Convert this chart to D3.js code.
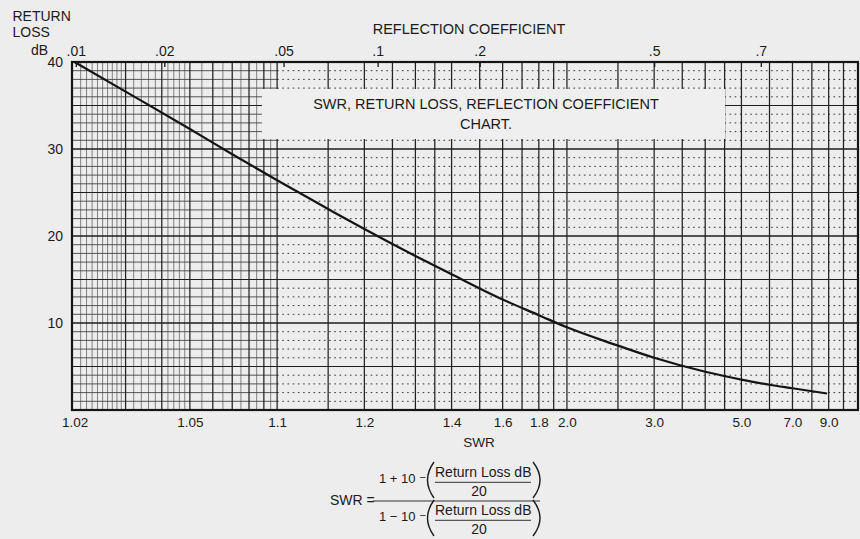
<!DOCTYPE html>
<html>
<head>
<meta charset="utf-8">
<script src="https://cdn.jsdelivr.net/npm/d3@7"></script>
<style>
  html, body { margin: 0; padding: 0; background: #ededed; }
  svg { display: block; font-family: "Liberation Sans", Arial, Helvetica, sans-serif; }
  text { fill: #1b1b1b; }
</style>
</head>
<body>
<svg id="chart" width="860" height="539"></svg>
<script>
// Return loss (dB) against SWR
const swrValues    = [1.02, 1.03, 1.05, 1.07, 1.10, 1.15, 1.20, 1.30, 1.40, 1.60, 1.80, 2.00, 2.50, 3.00, 4.00, 5.00, 6.00, 7.00, 8.90];
const returnLossDb = [40.0, 36.6, 32.3, 29.4, 26.4, 23.1, 20.8, 17.7, 15.6, 12.7, 10.9, 9.5,  7.4,  6.0,  4.4,  3.5,  2.9,  2.5,  1.9];

// bottom axis (SWR)
const swrTickValues = [1.02, 1.05, 1.1, 1.2, 1.4, 1.6, 1.8, 2.0, 3.0, 5.0, 7.0, 9.0];
const swrTickLabels = ["1.02", "1.05", "1.1", "1.2", "1.4", "1.6", "1.8", "2.0", "3.0", "5.0", "7.0", "9.0"];

// top axis (reflection coefficient)
const rhoTickValues = [0.01, 0.02, 0.05, 0.1, 0.2, 0.5, 0.7];
const rhoTickLabels = [".01", ".02", ".05", ".1", ".2", ".5", ".7"];

// left axis (return loss)
const returnLossTicks = [10, 20, 30, 40];

// vertical rulings at SWR values
const swrGridMajor = [1.03, 1.04, 1.05, 1.06, 1.07, 1.08, 1.09, 1.1, 1.15, 1.2, 1.25, 1.3, 1.35, 1.4,
                      1.5, 1.6, 1.7, 1.8, 1.9, 2.0, 2.5, 3.0, 3.5, 4.0, 4.5, 5, 6, 7, 8, 9, 10];
const swrGridFine  = [1.021, 1.022, 1.023, 1.024, 1.025, 1.026, 1.027, 1.028, 1.029,
                      1.032, 1.034, 1.036, 1.038, 1.042, 1.044, 1.046, 1.048,
                      1.055, 1.065, 1.075, 1.085, 1.095];
// horizontal rulings, one per dB
const returnLossGrid = [1,2,3,4,5,6,7,8,9,10,11,12,13,14,15,16,17,18,19,20,
                        21,22,23,24,25,26,27,28,29,30,31,32,33,34,35,36,37,38,39];

const svg = d3.select("#chart");
const plot = { left: 72, right: 858, top: 62, bottom: 410 };

// horizontal position follows log(SWR - 1)
const x = d3.scaleLog().domain([0.0196, 10.1]).range([plot.left, plot.right]);
const xSwr = s => x(s - 1);
const rhoToSwrMinus1 = r => 2 * r / (1 - r);
const y = d3.scaleLinear().domain([0, 40]).range([plot.bottom, plot.top]);

const grid = svg.append("g");

// fine rulings in the low-SWR region
grid.selectAll("line.fine").data(swrGridFine).join("line")
  .attr("x1", d => xSwr(d)).attr("x2", d => xSwr(d))
  .attr("y1", plot.top).attr("y2", plot.bottom)
  .attr("stroke", "#666").attr("stroke-width", 0.8);

// horizontal rulings
const splitX = xSwr(1.1);
const minorH = returnLossGrid.filter(d => d % 5 !== 0);
grid.selectAll("line.hsolid").data(minorH).join("line")
  .attr("x1", plot.left).attr("x2", splitX)
  .attr("y1", d => y(d)).attr("y2", d => y(d))
  .attr("stroke", "#444").attr("stroke-width", 0.9);
grid.selectAll("line.hdot").data(minorH).join("line")
  .attr("x1", splitX).attr("x2", plot.right)
  .attr("y1", d => y(d)).attr("y2", d => y(d))
  .attr("stroke", "#333").attr("stroke-width", 1)
  .attr("stroke-dasharray", "1.6,3.6");
grid.selectAll("line.hfive").data(returnLossGrid.filter(d => d % 5 === 0)).join("line")
  .attr("x1", plot.left).attr("x2", plot.right)
  .attr("y1", d => y(d)).attr("y2", d => y(d))
  .attr("stroke", "#1e1e1e")
  .attr("stroke-width", d => d % 10 === 0 ? 1.7 : 1.1);

// major vertical rulings
grid.selectAll("line.vmajor").data(swrGridMajor).join("line")
  .attr("x1", d => xSwr(d)).attr("x2", d => xSwr(d))
  .attr("y1", plot.top).attr("y2", plot.bottom)
  .attr("stroke", "#222").attr("stroke-width", 1.25);

// title panel
svg.append("rect")
  .attr("x", 262).attr("y", 89).attr("width", 463).attr("height", 50)
  .attr("fill", "#efefef");
svg.append("text").attr("x", 486).attr("y", 108.5).attr("text-anchor", "middle")
  .attr("font-size", 14.5).text("SWR, RETURN LOSS, REFLECTION COEFFICIENT");
svg.append("text").attr("x", 486).attr("y", 128.5).attr("text-anchor", "middle")
  .attr("font-size", 14.5).text("CHART.");

// plot frame
svg.append("rect")
  .attr("x", plot.left).attr("y", plot.top)
  .attr("width", plot.right - plot.left).attr("height", plot.bottom - plot.top)
  .attr("fill", "none").attr("stroke", "#151515").attr("stroke-width", 2.2);

// curve
const line = d3.line()
  .x(d => xSwr(d[0]))
  .y(d => y(d[1]))
  .curve(d3.curveMonotoneX);
svg.append("path")
  .datum(swrValues.map((s, i) => [s, returnLossDb[i]]))
  .attr("d", line)
  .attr("fill", "none").attr("stroke", "#141414").attr("stroke-width", 2.2);

// axes
const bottomAxis = d3.axisBottom(x)
  .tickValues(swrTickValues.map(s => s - 1))
  .tickFormat((d, i) => swrTickLabels[i])
  .tickSize(0).tickPadding(7);
const gb = svg.append("g").attr("transform", `translate(0,${plot.bottom})`).call(bottomAxis);

const topAxis = d3.axisTop(x)
  .tickValues(rhoTickValues.map(rhoToSwrMinus1))
  .tickFormat((d, i) => rhoTickLabels[i])
  .tickSizeInner(-5).tickSizeOuter(0).tickPadding(6);
const gt = svg.append("g").attr("transform", `translate(0,${plot.top})`).call(topAxis);

const leftAxis = d3.axisLeft(y)
  .tickValues(returnLossTicks)
  .tickSize(0).tickPadding(9);
const gl = svg.append("g").attr("transform", `translate(${plot.left},0)`).call(leftAxis);

[gb, gt, gl].forEach(g => {
  g.attr("font-family", null).attr("font-size", null).attr("color", "#1b1b1b");
  g.select(".domain").remove();
  g.selectAll(".tick line").attr("stroke", "#1b1b1b").attr("stroke-width", 1.3);
});
gb.selectAll("text").attr("font-size", 13.5);
gt.selectAll("text").attr("font-size", 14);
gl.selectAll("text").attr("font-size", 14);

// axis titles
svg.append("text").attr("x", 12.5).attr("y", 20.7).attr("font-size", 14).text("RETURN");
svg.append("text").attr("x", 12.5).attr("y", 36.7).attr("font-size", 14).text("LOSS");
svg.append("text").attr("x", 31).attr("y", 55).attr("font-size", 14).text("dB");
svg.append("text").attr("x", 469).attr("y", 33.5).attr("text-anchor", "middle")
  .attr("font-size", 14.5).text("REFLECTION COEFFICIENT");
svg.append("text").attr("x", 479).attr("y", 447).attr("text-anchor", "middle")
  .attr("font-size", 13.5).text("SWR");

// formula: SWR = (1 + 10^-(RL/20)) / (1 - 10^-(RL/20))
const f = svg.append("g").attr("font-size", 14);
f.append("text").attr("x", 330).attr("y", 505).text("SWR =");
f.append("line").attr("x1", 373).attr("x2", 540).attr("y1", 501).attr("y2", 501)
  .attr("stroke", "#333").attr("stroke-width", 1);

function exponentBlock(dy, sign) {
  const g = f.append("g").attr("transform", `translate(0,${dy})`);
  g.append("text").attr("x", 379).attr("y", 483.3).attr("font-size", 13).text(`1 ${sign} 10`);
  g.append("text").attr("x", 419.5).attr("y", 480.5).attr("font-size", 11).text("\u2212");
  g.append("path").attr("d", "M434,462 Q421,480 434,498")
    .attr("fill", "none").attr("stroke", "#1b1b1b").attr("stroke-width", 1.4);
  g.append("path").attr("d", "M533,462 Q547,480 533,498")
    .attr("fill", "none").attr("stroke", "#1b1b1b").attr("stroke-width", 1.4);
  g.append("text").attr("x", 435).attr("y", 476.7).text("Return Loss dB");
  g.append("line").attr("x1", 435).attr("x2", 531).attr("y1", 482.3).attr("y2", 482.3)
    .attr("stroke", "#333").attr("stroke-width", 1);
  g.append("text").attr("x", 479).attr("y", 496).attr("text-anchor", "middle").text("20");
}
exponentBlock(0, "+");
exponentBlock(38, "\u2212");
</script>
</body>
</html>
